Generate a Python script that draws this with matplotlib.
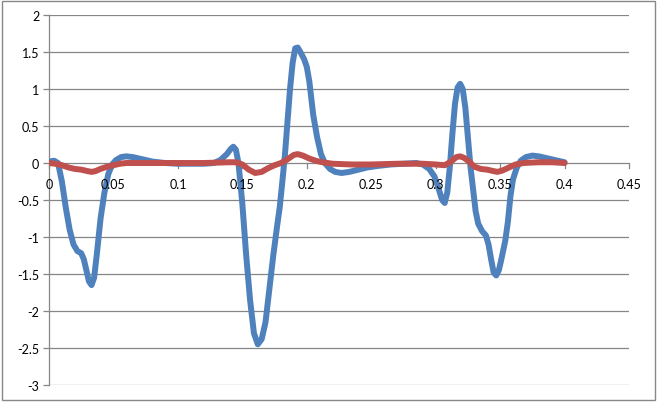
import matplotlib
matplotlib.use("Agg")
import matplotlib.pyplot as plt
from matplotlib.patches import Rectangle

blue_x = [0.000, 0.004, 0.007, 0.010, 0.013, 0.016, 0.019, 0.022, 0.025, 0.027, 0.029, 0.031, 0.033,
          0.035, 0.037, 0.040, 0.043, 0.046, 0.049, 0.052, 0.056, 0.060, 0.065, 0.070, 0.075, 0.080,
          0.090, 0.100, 0.110, 0.120, 0.128, 0.133, 0.138, 0.141, 0.143, 0.145, 0.147, 0.150, 0.153,
          0.156, 0.159, 0.162, 0.165, 0.168, 0.171, 0.174, 0.177, 0.179, 0.181, 0.183, 0.185, 0.187,
          0.189, 0.191, 0.193, 0.195, 0.198, 0.200, 0.202, 0.205, 0.208, 0.211, 0.214, 0.218, 0.222,
          0.227, 0.233, 0.240, 0.247, 0.255, 0.265, 0.275, 0.285, 0.290, 0.295, 0.299, 0.302, 0.305,
          0.307, 0.309, 0.311, 0.313, 0.315, 0.317, 0.319, 0.321, 0.323, 0.325, 0.327, 0.329, 0.331,
          0.333, 0.336, 0.339, 0.341, 0.343, 0.345, 0.347, 0.349, 0.351, 0.354, 0.356, 0.358, 0.360,
          0.363, 0.366, 0.370, 0.375, 0.380, 0.385, 0.390, 0.395, 0.400]
blue_y = [0.02, 0.03, 0.0, -0.25, -0.60, -0.90, -1.10, -1.19, -1.22, -1.30, -1.45, -1.60, -1.65,
          -1.55, -1.25, -0.75, -0.40, -0.15, -0.02, 0.04, 0.08, 0.09, 0.08, 0.06, 0.04, 0.02,
          0.0, -0.01, -0.01, -0.01, 0.0, 0.04, 0.12, 0.19, 0.22, 0.18, 0.0, -0.55, -1.25,
          -1.85, -2.30, -2.45, -2.38, -2.15, -1.70, -1.25, -0.85, -0.60, -0.26, 0.10, 0.55, 1.00,
          1.35, 1.55, 1.56, 1.50, 1.40, 1.30, 1.10, 0.65, 0.35, 0.12, 0.0, -0.08, -0.12,
          -0.135, -0.12, -0.09, -0.06, -0.04, -0.02, -0.01, 0.0, -0.02, -0.08, -0.18, -0.33, -0.50,
          -0.54, -0.40, -0.05, 0.40, 0.80, 1.02, 1.07, 1.00, 0.75, 0.35, -0.05, -0.35, -0.65,
          -0.82, -0.92, -0.98, -1.10, -1.30, -1.48, -1.52, -1.45, -1.30, -1.05, -0.80, -0.45, -0.22,
          -0.06, 0.03, 0.08, 0.10, 0.09, 0.07, 0.05, 0.03, 0.01]

red_x = [0.000, 0.005, 0.010, 0.015, 0.020, 0.025, 0.030, 0.033, 0.036, 0.040, 0.045, 0.050, 0.055,
         0.060, 0.080, 0.100, 0.120, 0.140, 0.145, 0.150, 0.155, 0.160, 0.165, 0.170, 0.175, 0.180,
         0.185, 0.190, 0.193, 0.197, 0.202, 0.207, 0.212, 0.220, 0.235, 0.250, 0.270, 0.290, 0.300,
         0.307, 0.312, 0.316, 0.319, 0.322, 0.326, 0.330, 0.335, 0.340, 0.345, 0.348, 0.352, 0.357,
         0.362, 0.368, 0.380, 0.390, 0.400]
red_y = [0.0, -0.01, -0.03, -0.06, -0.08, -0.09, -0.11, -0.12, -0.11, -0.08, -0.05, -0.03, -0.01,
         0.0, 0.0, 0.0, 0.0, 0.01, 0.01, -0.02, -0.09, -0.135, -0.12, -0.07, -0.03, 0.0,
         0.05, 0.11, 0.12, 0.10, 0.06, 0.03, 0.01, -0.01, -0.02, -0.02, -0.01, -0.01, -0.02,
         -0.03, 0.02, 0.08, 0.09, 0.07, 0.02, -0.05, -0.08, -0.09, -0.11, -0.12, -0.10, -0.06,
         -0.02, 0.0, 0.01, 0.01, 0.0]

x_ticks = [0, 0.05, 0.1, 0.15, 0.2, 0.25, 0.3, 0.35, 0.4, 0.45]
x_labels = ["0", "0.05", "0.1", "0.15", "0.2", "0.25", "0.3", "0.35", "0.4", "0.45"]
y_ticks = [-3, -2.5, -2, -1.5, -1, -0.5, 0, 0.5, 1, 1.5, 2]
y_labels = ["-3", "-2.5", "-2", "-1.5", "-1", "-0.5", "0", "0.5", "1", "1.5", "2"]

plt.rcParams['font.family'] = ['Lato', 'DejaVu Sans']
fig = plt.figure(figsize=(6.6, 4.06), dpi=100)
fig.patch.set_facecolor('white')
fig.add_artist(Rectangle((2/660, 5/406), 653/660, 399/406, transform=fig.transFigure,
                         fill=False, edgecolor='#888888', linewidth=1.0))

ax = fig.add_axes([49/660, 20/406, 580/660, 370/406])
grid_c = '#868686'
ax.set_xlim(0, 0.45)
ax.set_ylim(-3, 2)
for yv in y_ticks:
    ax.axhline(yv, color=grid_c, linewidth=0.9, zorder=0)

ax.plot(blue_x, blue_y, color='#4F81BD', linewidth=4.3, solid_capstyle='round',
        solid_joinstyle='round', zorder=3)
ax.plot(red_x, red_y, color='#C0504D', linewidth=4.3, solid_capstyle='round',
        solid_joinstyle='round', zorder=4)

for s in ['top', 'right', 'bottom']:
    ax.spines[s].set_visible(False)
ax.spines['left'].set_color(grid_c)
ax.spines['left'].set_linewidth(0.9)

ax.set_yticks(y_ticks)
ax.set_yticklabels(y_labels)
ax.set_xticks([])

# x-axis at y=0 with ticks and labels
for xv, lab in zip(x_ticks, x_labels):
    ax.plot([xv, xv], [0, -0.07], color=grid_c, linewidth=0.9, zorder=1, clip_on=False)
    ax.text(xv, -0.29, lab, ha='center', va='center', fontsize=9, color='black')

ax.tick_params(axis='y', length=4, width=0.9, color=grid_c, labelsize=9, pad=3)

fig.savefig('out.png', dpi=100, facecolor='white')
